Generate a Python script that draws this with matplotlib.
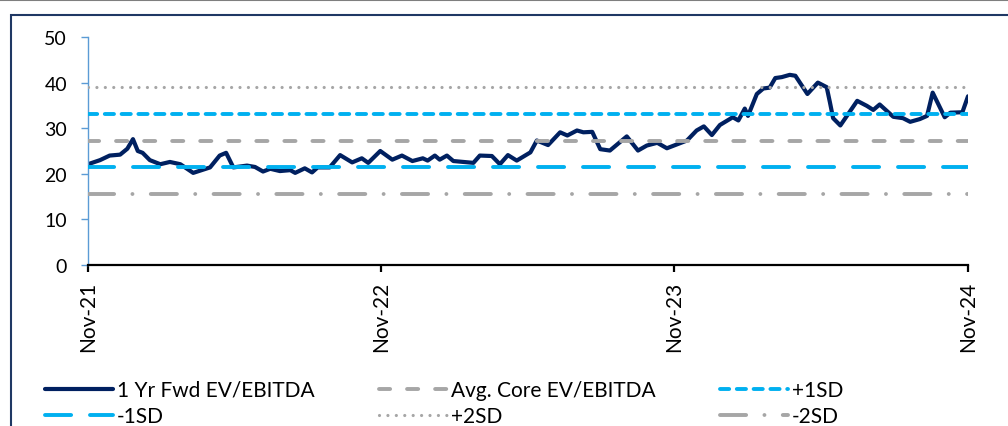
import pandas as pd
import matplotlib
matplotlib.use('Agg')
import matplotlib.pyplot as plt
import matplotlib.dates as mdates
from matplotlib.patches import Rectangle
from matplotlib.lines import Line2D

# 1 Yr Fwd EV/EBITDA
dates = ['2021-11-01', '2021-11-16', '2021-11-28', '2021-12-11', '2021-12-20', '2021-12-27',
         '2022-01-02', '2022-01-08', '2022-01-17', '2022-01-30', '2022-02-11', '2022-02-24',
         '2022-03-12', '2022-04-02', '2022-04-14', '2022-04-22', '2022-05-01', '2022-05-18',
         '2022-05-28', '2022-06-07', '2022-06-16', '2022-06-28', '2022-07-11', '2022-07-17',
         '2022-07-29', '2022-08-07', '2022-08-14', '2022-08-29', '2022-09-11', '2022-09-26',
         '2022-10-08', '2022-10-16', '2022-10-31', '2022-11-15', '2022-11-27', '2022-12-10',
         '2022-12-23', '2022-12-29', '2023-01-07', '2023-01-13', '2023-01-22', '2023-01-30',
         '2023-02-24', '2023-03-04', '2023-03-19', '2023-03-29', '2023-04-08', '2023-04-19',
         '2023-05-06', '2023-05-14', '2023-05-28', '2023-06-12', '2023-06-21', '2023-07-03',
         '2023-07-11', '2023-07-22', '2023-08-01', '2023-08-13', '2023-09-03', '2023-09-17',
         '2023-09-28', '2023-10-11', '2023-10-23', '2023-11-17', '2023-11-29', '2023-12-08',
         '2023-12-18', '2023-12-28', '2024-01-13', '2024-01-20', '2024-01-28', '2024-02-01',
         '2024-02-12', '2024-02-20', '2024-02-28', '2024-03-06', '2024-03-14', '2024-03-24',
         '2024-03-31', '2024-04-15', '2024-04-28', '2024-05-09', '2024-05-13', '2024-05-17',
         '2024-05-26', '2024-06-16', '2024-06-28', '2024-07-06', '2024-07-14', '2024-07-31',
         '2024-08-12', '2024-08-21', '2024-09-02', '2024-09-11', '2024-09-18', '2024-10-03',
         '2024-10-10', '2024-10-25', '2024-11-01']
ev_ebitda = [22.1, 23.0, 24.0, 24.2, 25.5, 27.6,
             25.0, 24.6, 23.0, 22.1, 22.6, 22.1,
             20.2, 21.4, 24.0, 24.6, 21.4, 21.8,
             21.5, 20.5, 21.1, 20.6, 20.8, 20.2,
             21.2, 20.3, 21.4, 21.4, 24.1, 22.5,
             23.4, 22.4, 25.0, 23.1, 24.0, 22.8,
             23.4, 22.9, 24.0, 23.1, 24.0, 22.8,
             22.4, 24.0, 23.9, 22.1, 24.1, 22.9,
             24.7, 27.3, 26.3, 29.1, 28.4, 29.5,
             29.1, 29.2, 25.4, 25.1, 28.2, 25.1,
             26.2, 26.8, 25.6, 27.3, 29.5, 30.4,
             28.5, 30.7, 32.4, 31.7, 34.3, 32.7,
             37.5, 38.7, 38.9, 41.0, 41.2, 41.7,
             41.5, 37.5, 40.0, 39.0, 35.7, 32.2,
             30.6, 36.0, 34.9, 34.0, 35.2, 32.5,
             32.2, 31.4, 32.0, 32.7, 37.8, 32.4,
             33.4, 33.5, 37.0]

# bands
avg_core = 27.3
plus_1sd = 33.2
minus_1sd = 21.5
plus_2sd = 39.0
minus_2sd = 15.6

x_ticks = ['2021-11-01', '2022-11-01', '2023-11-01', '2024-11-01']

navy = '#002060'
cyan = '#00B0F0'
grey = '#A6A6A6'

plt.rcParams['font.family'] = ['Lato', 'DejaVu Sans']
plt.rcParams['lines.scale_dashes'] = False

dt = pd.to_datetime(dates)
start = pd.Timestamp(x_ticks[0])
end = pd.Timestamp(x_ticks[-1])

fig = plt.figure(figsize=(10.08, 4.27), dpi=100)
ax = fig.add_axes([88 / 1008, 1 - 266 / 427, 880 / 1008, 228 / 427])

ax.plot(dt, ev_ebitda, color=navy, linewidth=3.0, solid_capstyle='round',
        solid_joinstyle='round', label='1 Yr Fwd EV/EBITDA', zorder=2)
lw = 2.8
ax.axhline(avg_core, color=grey, linewidth=lw, dashes=(8.0, 12.2),
           dash_capstyle='round', label='Avg. Core EV/EBITDA', zorder=3)
ax.axhline(plus_1sd, color=cyan, linewidth=lw, dashes=(6.6, 5.5),
           dash_capstyle='round', label='+1SD', zorder=3)
ax.axhline(minus_1sd, color=cyan, linewidth=lw, dashes=(18.8, 13.6),
           dash_capstyle='round', label='-1SD', zorder=3)
ax.axhline(plus_2sd, color=grey, linewidth=2.3, dashes=(0.01, 6.05),
           dash_capstyle='round', label='+2SD', zorder=3)
ax.axhline(minus_2sd, color=grey, linewidth=lw, dashes=(18.8, 13.2, 0.01, 13.2),
           dash_capstyle='round', label='-2SD', zorder=3)

ax.set_xlim(start, end)
ax.set_ylim(0, 50)
ax.set_yticks([0, 10, 20, 30, 40, 50])
ax.set_xticks(pd.to_datetime(x_ticks))
ax.xaxis.set_major_formatter(mdates.DateFormatter('%b-%y'))

for s in ['top', 'right']:
    ax.spines[s].set_visible(False)
ax.spines['left'].set_color('#5B9BD5')
ax.spines['left'].set_linewidth(1.0)
ax.spines['bottom'].set_color('black')
ax.spines['bottom'].set_linewidth(1.6)
ax.spines['bottom'].set_zorder(4)
ax.tick_params(axis='y', direction='out', length=5, width=1.0, color='#5B9BD5',
               labelsize=14, pad=10, labelcolor='black')
ax.tick_params(axis='x', direction='out', length=5, width=1.6, color='black',
               labelsize=15, pad=6, labelrotation=90)

# legend laid out row by row like the original
h, l = ax.get_legend_handles_labels()
order = [0, 3, 1, 4, 2, 5]
leg = fig.legend([h[i] for i in order], [l[i] for i in order], ncol=3, frameon=False,
                 loc='upper left', bbox_to_anchor=(45 / 1008, 1 - 381 / 427),
                 borderpad=0, borderaxespad=0, handlelength=3.25, handletextpad=0.2,
                 columnspacing=3.1, labelspacing=0.3, fontsize=15)

# outer frame and top rule
fig.add_artist(Rectangle((11 / 1008, -0.1), 1.2, 1 - 16 / 427 + 0.1, transform=fig.transFigure,
                         fill=False, edgecolor='#1F3864', linewidth=1.5))
fig.add_artist(Line2D([0, 1], [1 - 1 / 427, 1 - 1 / 427], transform=fig.transFigure,
                      color='#7F7F7F', linewidth=1.5))

plt.savefig('out.png', dpi=100)
